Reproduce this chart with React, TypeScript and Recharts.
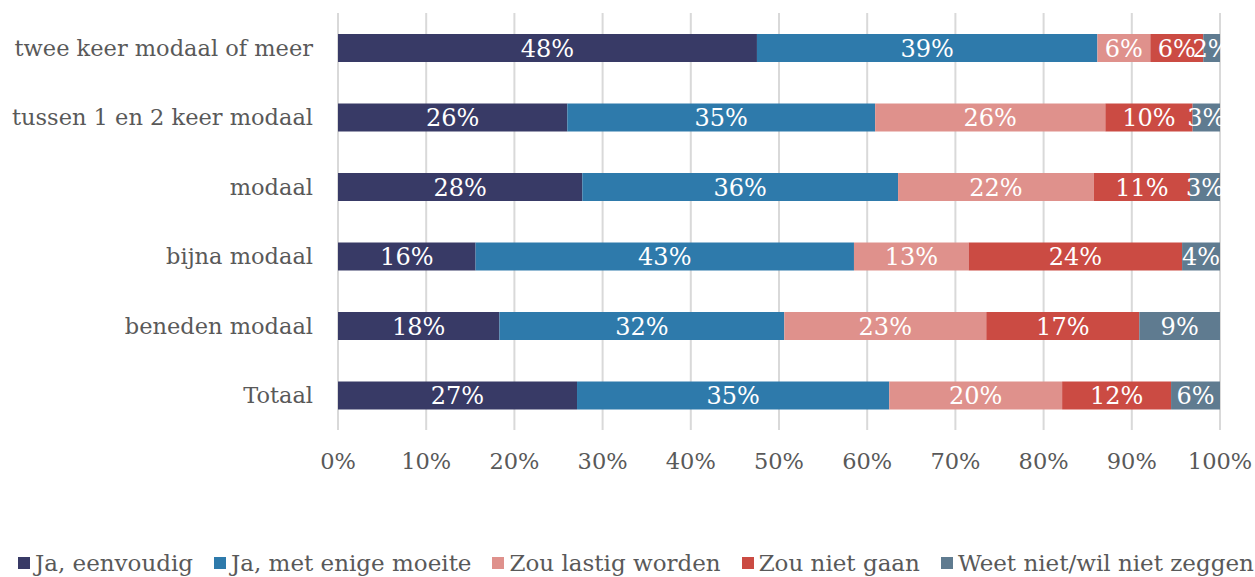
import React from 'react';
import {
  BarChart, Bar, XAxis, YAxis, CartesianGrid, Legend, LabelList,
} from 'recharts';

// categorieën van boven naar beneden
const categories = [
  'twee keer modaal of meer',
  'tussen 1 en 2 keer modaal',
  'modaal',
  'bijna modaal',
  'beneden modaal',
  'Totaal',
];

const jaEenvoudig = [47.5, 26.0, 27.7, 15.6, 18.3, 27.1];
const jaMetMoeite = [38.6, 34.9, 35.8, 42.9, 32.3, 35.4];
const zouLastig = [6.0, 26.1, 22.2, 13.0, 22.9, 19.6];
const zouNietGaan = [6.0, 9.9, 10.9, 24.2, 17.35, 12.35];
const weetNiet = [1.9, 3.1, 3.4, 4.3, 9.15, 5.55];

const xTicks = [0, 10, 20, 30, 40, 50, 60, 70, 80, 90, 100];

const series = [
  { key: 'a', name: 'Ja, eenvoudig', values: jaEenvoudig, color: '#383a66' },
  { key: 'b', name: 'Ja, met enige moeite', values: jaMetMoeite, color: '#2e7aab' },
  { key: 'c', name: 'Zou lastig worden', values: zouLastig, color: '#df918c' },
  { key: 'd', name: 'Zou niet gaan', values: zouNietGaan, color: '#cb4b43' },
  { key: 'e', name: 'Weet niet/wil niet zeggen', values: weetNiet, color: '#5f7b90' },
];

const data = categories.map((name, i) => {
  const row: Record<string, string | number> = { name };
  series.forEach(s => { row[s.key] = s.values[i]; });
  return row;
});

const FONT = '"DejaVu Serif", serif';
const TEXT = '#595959';

function LegendContent() {
  return (
    <div style={{
      height: 28, display: 'flex', alignItems: 'center', paddingLeft: 18,
      fontFamily: FONT, fontSize: 23, color: TEXT, whiteSpace: 'nowrap',
    }}>
      {series.map(s => (
        <div key={s.key} style={{ display: 'flex', alignItems: 'center', marginRight: 21 }}>
          <span style={{ width: 12, height: 12, background: s.color, marginRight: 5, display: 'inline-block' }} />
          <span>{s.name}</span>
        </div>
      ))}
    </div>
  );
}

export default function App() {
  return (
    <div style={{ position: 'fixed', left: 0, top: 0, width: 1255, height: 577, overflow: 'hidden', background: '#fff' }}>
      <BarChart
        width={1255}
        height={577}
        data={data}
        layout="vertical"
        stackOffset="expand"
        barSize={28}
        margin={{ top: 13, right: 35, left: 0, bottom: 0 }}
      >
        <CartesianGrid horizontal={false} stroke="#d9d9d9" strokeWidth={2} />
        <XAxis
          type="number"
          domain={[0, 1]}
          ticks={xTicks.map(t => t / 100)}
          tickFormatter={(v: number) => `${Math.round(v * 100)}%`}
          axisLine={false}
          tickLine={false}
          tickSize={0}
          tickMargin={23}
          height={119}
          tick={{ fill: TEXT, fontSize: 22.5, fontFamily: FONT }}
        />
        <YAxis
          type="category"
          dataKey="name"
          width={338}
          axisLine={false}
          tickLine={false}
          tickSize={0}
          tickMargin={25}
          tick={{ fill: TEXT, fontSize: 22.5, fontFamily: FONT }}
        />
        <Legend verticalAlign="bottom" align="left" content={() => <LegendContent />} />
        {series.map(s => (
          <Bar key={s.key} dataKey={s.key} name={s.name} stackId="x" fill={s.color} isAnimationActive={false}>
            <LabelList
              dataKey={s.key}
              position="center"
              fill="#ffffff"
              fontSize={24}
              fontFamily={FONT}
              formatter={(v: any) => `${Math.round(Number(v))}%`}
            />
          </Bar>
        ))}
      </BarChart>
    </div>
  );
}
